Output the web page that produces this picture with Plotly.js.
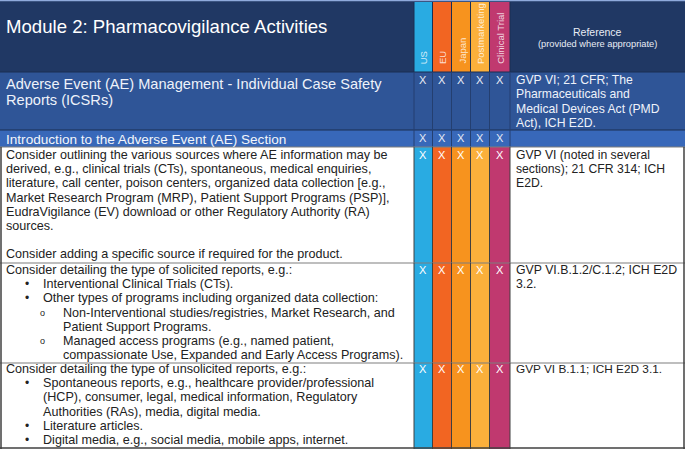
<!DOCTYPE html>
<html>
<head>
<meta charset="utf-8">
<script src="https://cdn.plot.ly/plotly-3.0.1.min.js"></script>
<style>html,body{margin:0;padding:0;background:#fff;}#chart{width:685px;height:449px;}</style>
</head>
<body>
<div id="chart"></div>
<script>
// ---------- content ----------
const title = "Module 2: Pharmacovigilance Activities";
const markColumns = ["US", "EU", "Japan", "Postmarketing", "Clinical Trial"];
const referenceHeader = "Reference";
const referenceSub = "(provided where appropriate)";

const sectionRow = ["Adverse Event (AE) Management - Individual Case Safety", "Reports (ICSRs)"];
const sectionRef = ["GVP VI; 21 CFR; The", "Pharmaceuticals and", "Medical Devices Act (PMD", "Act), ICH E2D."];
const subsectionRow = ["Introduction to the Adverse Event (AE) Section"];

// [indent level, bullet, text]
const body1 = [
  [0, "", "Consider outlining the various sources where AE information may be"],
  [0, "", "derived, e.g., clinical trials (CTs), spontaneous, medical enquiries,"],
  [0, "", "literature, call center, poison centers, organized data collection [e.g.,"],
  [0, "", "Market Research Program (MRP), Patient Support Programs (PSP)],"],
  [0, "", "EudraVigilance (EV) download or other Regulatory Authority (RA)"],
  [0, "", "sources."],
  [0, "", ""],
  [0, "", "Consider adding a specific source if required for the product."]
];
const body2 = [
  [0, "", "Consider detailing the type of solicited reports, e.g.:"],
  [1, "•", "Interventional Clinical Trials (CTs)."],
  [1, "•", "Other types of programs including organized data collection:"],
  [2, "o", "Non-Interventional studies/registries, Market Research, and"],
  [2, "", "Patient Support Programs."],
  [2, "o", "Managed access programs (e.g., named patient,"],
  [2, "", "compassionate Use, Expanded and Early Access Programs)."]
];
const body3 = [
  [0, "", "Consider detailing the type of unsolicited reports, e.g.:"],
  [1, "•", "Spontaneous reports, e.g., healthcare provider/professional"],
  [1, "", "(HCP), consumer, legal, medical information, Regulatory"],
  [1, "", "Authorities (RAs), media, digital media."],
  [1, "•", "Literature articles."],
  [1, "•", "Digital media, e.g., social media, mobile apps, internet."]
];
const bodyRefs = [
  ["GVP VI (noted in several", "sections); 21 CFR 314; ICH", "E2D."],
  ["GVP VI.B.1.2/C.1.2; ICH E2D", "3.2."],
  ["GVP VI B.1.1; ICH E2D 3.1."]
];
const marks = [
  ["X","X","X","X","X"], // section
  ["X","X","X","X","X"], // subsection
  ["X","X","X","X","X"],
  ["X","X","X","X","X"],
  ["X","X","X","X","X"]
];

// ---------- layout geometry & style ----------
const colWidths = [414, 18.5, 19, 19, 19, 20.5, 175];
const rowHeights = [72, 58, 17, 116, 100, 86];
const colColors = ["#29abe2", "#f26522", "#f7931e", "#fbb03b", "#c0396f"];
const navy = "#203864", sectionBlue = "#2f5597", subBlue = "#3868b9";
const font = "Liberation Sans, Arial, sans-serif";
const bodySize = 12.6, refSizes = [12.2, 12.3, 11.8];

const colEdges = [0]; colWidths.forEach(w => colEdges.push(colEdges[colEdges.length-1] + w));
const rowEdges = [0]; rowHeights.forEach(h => rowEdges.push(rowEdges[rowEdges.length-1] + h));

const shapes = [], ann = [];
function rect(x0, x1, y0, y1, fill, lc, lw) {
  shapes.push({type:"rect", xref:"x", yref:"y", x0, x1, y0, y1, fillcolor:fill,
    line:{color:lc || fill, width: lw === undefined ? 0 : lw}, layer:"below"});
}
function line(x0, y0, x1, y1, c, w) {
  shapes.push({type:"line", xref:"x", yref:"y", x0, y0, x1, y1, line:{color:c, width:w || 1}});
}
function text(x, y, t, size, color, extra) {
  ann.push(Object.assign({x, y, xref:"x", yref:"y", text:t, showarrow:false, xanchor:"left",
    yanchor:"middle", font:{family:font, size, color}}, extra || {}));
}
const W = colEdges[colEdges.length-1];

// header
rect(0, W, rowEdges[0], rowEdges[1], navy);
line(0, 0.5, W, 0.5, "#8faadc", 1.5);
markColumns.forEach((c, i) => {
  rect(colEdges[i+1], colEdges[i+2], 2, rowEdges[1], colColors[i]);
  line(colEdges[i+1], 2, colEdges[i+1], rowEdges[1], "#1a2e52", 1);
  text((colEdges[i+1]+colEdges[i+2])/2 + 0.5, rowEdges[1]-6, c, 9.5, "rgba(255,255,255,0.8)",
       {textangle:-90, xanchor:"center", yanchor:"bottom"});
});
line(colEdges[6], 2, colEdges[6], rowEdges[1], "#1a2e52", 1);
text(4, 26, title, 18.6, "#ffffff");
text((colEdges[6]+W)/2, 32, referenceHeader, 10.5, "#e8ecf4", {xanchor:"center"});
text((colEdges[6]+W)/2, 43.5, referenceSub, 9.3, "#e8ecf4", {xanchor:"center"});

// section row
rect(0, W, rowEdges[1], rowEdges[2], sectionBlue);
line(0, rowEdges[1], W, rowEdges[1], "#1a2e52", 1.2);
sectionRow.forEach((t, i) => text(4, 84 + i*16, t, 14.6, "#eef2fa"));
sectionRef.forEach((t, i) => text(colEdges[6]+4, 80 + i*14.4, t, 12.2, "#eef2fa"));
// subsection row
rect(0, W, rowEdges[2], rowEdges[3], subBlue);
line(0, rowEdges[2], W, rowEdges[2], "#1a2e52", 1.2);
subsectionRow.forEach((t, i) => text(4, 139, t, 13.6, "#f2f5fb"));
[1,2].forEach(r => {
  for (let i = 1; i <= 6; i++) line(colEdges[i], rowEdges[r], colEdges[i], rowEdges[r+1], "#243f70", 1);
  marks[r-1].forEach((m, i) => text((colEdges[i+1]+colEdges[i+2])/2, (r === 1 ? 80 : 138), m, 11, "#e6ebf5", {xanchor:"center"}));
});

// body rows
const bodies = [body1, body2, body3];
const firstOffsets = [8, 7, 6];
const pitch = 14.2;
const indentX = [4, 41, 61], bulletX = [0, 22.5, 38];
bodies.forEach((rows, b) => {
  const r = b + 3, y0 = rowEdges[r], y1 = rowEdges[r+1];
  rect(0, colEdges[1], y0, y1, "#ffffff");
  rect(colEdges[6], W, y0, y1, "#ffffff");
  markColumns.forEach((c, i) => rect(colEdges[i+1], colEdges[i+2], y0, y1, colColors[i]));
  line(0, y0, W, y0, "#7f7f7f", 1.2);
  for (let i = 1; i <= 6; i++) line(colEdges[i], y0, colEdges[i], y1, "#404040", 1);
  rows.forEach((ln, k) => {
    const y = y0 + firstOffsets[b] + k*pitch;
    if (ln[1]) text(bulletX[ln[0]], y, ln[1], ln[1] === "•" ? 12 : 9, "#222222");
    if (ln[2]) text(indentX[ln[0]], y, ln[2], bodySize, "#222222");
  });
  bodyRefs[b].forEach((t, k) => text(colEdges[6]+4, y0 + firstOffsets[b] + k*pitch, t, refSizes[b], "#222222"));
  marks[r-1].forEach((m, i) => text((colEdges[i+1]+colEdges[i+2])/2, y0 + firstOffsets[b], m, 11, "#ffffff", {xanchor:"center"}));
});
line(1, rowEdges[3], 1, rowEdges[6], "#404040", 1.5);
line(W-1, rowEdges[3], W-1, rowEdges[6], "#404040", 1.5);
line(0, rowEdges[6]-1, W, rowEdges[6]-1, "#404040", 1.5);

const layout = {
  width: 685, height: 449, margin:{l:0, r:0, t:0, b:0},
  paper_bgcolor:"#ffffff", plot_bgcolor:"#ffffff",
  xaxis:{range:[0, W], visible:false, fixedrange:true},
  yaxis:{range:[rowEdges[rowEdges.length-1], 0], visible:false, fixedrange:true},
  shapes, annotations: ann, showlegend:false
};
Plotly.newPlot("chart", [{type:"scatter", x:[], y:[], hoverinfo:"skip"}], layout, {staticPlot:true, displayModeBar:false});
</script>
</body>
</html>
